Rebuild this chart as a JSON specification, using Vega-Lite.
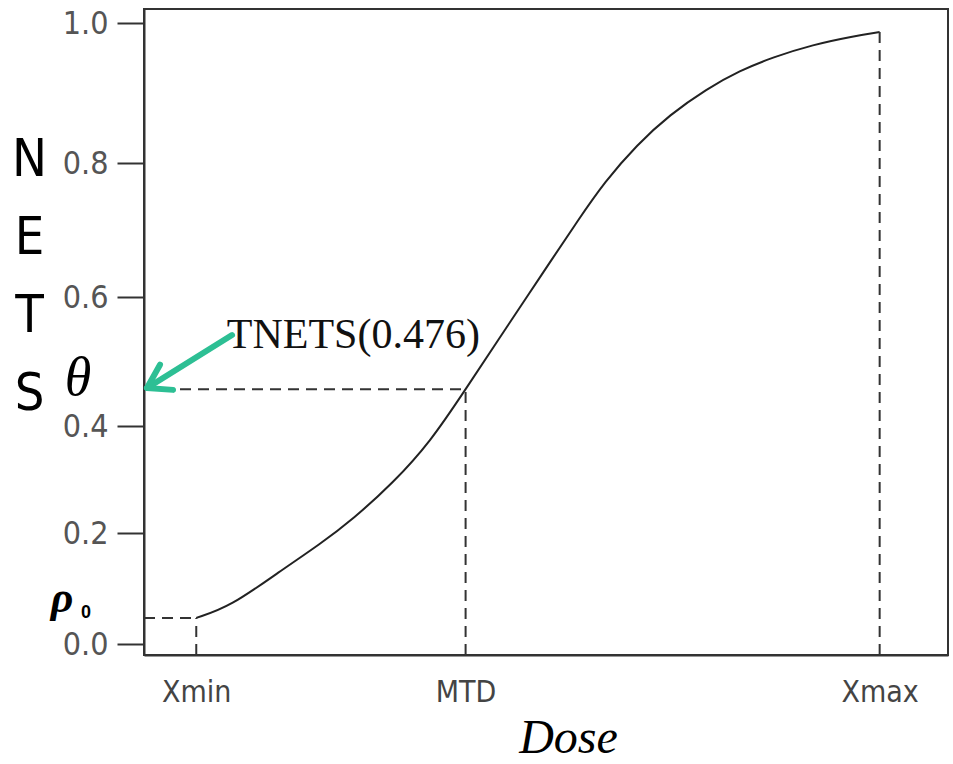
{
  "$schema": "https://vega.github.io/schema/vega-lite/v6.json",
  "width": 804,
  "height": 646,
  "autosize": "none",
  "padding": {"left": 144, "top": 9, "right": 5, "bottom": 109},
  "background": "white",
  "config": {
    "view": {"stroke": "#333", "strokeWidth": 2},
    "axis": {
      "grid": false,
      "domainColor": "#333",
      "domainWidth": 2,
      "tickColor": "#333",
      "tickWidth": 2,
      "labelFont": "Liberation Sans Narrow, DejaVu Sans Condensed, Roboto Condensed, sans-serif"
    }
  },
  "datasets": {
    "curve": [
      {"x": 6.5, "y": 0.047},
      {"x": 10.7, "y": 0.067},
      {"x": 16.9, "y": 0.131},
      {"x": 21.9, "y": 0.18},
      {"x": 26.0, "y": 0.226},
      {"x": 31.0, "y": 0.294},
      {"x": 35.6, "y": 0.37},
      {"x": 40.0, "y": 0.457},
      {"x": 44.3, "y": 0.538},
      {"x": 48.0, "y": 0.607},
      {"x": 50.5, "y": 0.652},
      {"x": 53.9, "y": 0.713},
      {"x": 57.3, "y": 0.772},
      {"x": 61.3, "y": 0.826},
      {"x": 65.4, "y": 0.869},
      {"x": 70.0, "y": 0.906},
      {"x": 74.1, "y": 0.932},
      {"x": 78.2, "y": 0.951},
      {"x": 83.2, "y": 0.969},
      {"x": 88.2, "y": 0.981},
      {"x": 91.5, "y": 0.987}
    ],
    "guides": [
      {"x": 0, "y": 0.457, "x2": 40, "y2": 0.457},
      {"x": 40, "y": -0.02, "x2": 40, "y2": 0.457},
      {"x": 0, "y": 0.047, "x2": 6.5, "y2": 0.047},
      {"x": 6.5, "y": -0.02, "x2": 6.5, "y2": 0.047},
      {"x": 91.5, "y": -0.02, "x2": 91.5, "y2": 0.987}
    ],
    "arrow": [
      {"part": "shaft", "ord": 1, "x": 10.95, "y": 0.541},
      {"part": "shaft", "ord": 2, "x": 0.37, "y": 0.459},
      {"part": "head", "ord": 1, "x": 1.99, "y": 0.495},
      {"part": "head", "ord": 2, "x": 0.37, "y": 0.459},
      {"part": "head", "ord": 3, "x": 3.61, "y": 0.456}
    ]
  },
  "encoding": {
    "x": {
      "field": "x",
      "type": "quantitative",
      "scale": {"domain": [0, 100], "nice": false, "zero": false},
      "axis": {
        "orient": "bottom",
        "values": [6.5, 40, 91.5],
        "labelExpr": "datum.value < 20 ? 'Xmin' : datum.value < 60 ? 'MTD' : 'Xmax'",
        "ticks": false,
        "labelFontSize": 30,
        "labelColor": "#444",
        "labelPadding": 22,
        "labelFlush": false,
        "title": "Dose",
        "titleFont": "Liberation Serif",
        "titleFontStyle": "italic",
        "titleFontWeight": "normal",
        "titleFontSize": 48,
        "titleColor": "#000",
        "titleX": 424,
        "titleY": 97,
        "titleAlign": "center",
        "titleBaseline": "alphabetic"
      }
    },
    "y": {
      "field": "y",
      "type": "quantitative",
      "scale": {
        "domain": [-0.02, 0, 0.2, 0.4, 0.6, 0.8, 1.0, 1.02],
        "range": [646, 635, 524, 417, 288, 154, 14, 0],
        "nice": false,
        "zero": false
      },
      "axis": {
        "values": [0, 0.2, 0.4, 0.6, 0.8, 1.0],
        "format": ".1f",
        "tickSize": 27,
        "labelPadding": 9,
        "labelFontSize": 32,
        "labelColor": "#555",
        "labelFlush": false,
        "labelOverlap": false,
        "title": ["N", "E", "T", "S"],
        "titleAngle": 0,
        "titleFont": "Liberation Sans Narrow, DejaVu Sans Condensed, Roboto Condensed, sans-serif",
        "titleFontSize": 52,
        "titleFontWeight": "normal",
        "titleColor": "#000",
        "titleLineHeight": 78,
        "titleX": -115,
        "titleY": 150,
        "titleAlign": "center",
        "titleBaseline": "middle"
      }
    }
  },
  "layer": [
    {
      "data": {"name": "curve"},
      "mark": {"type": "line", "color": "#222", "strokeWidth": 2, "interpolate": "basis"}
    },
    {
      "data": {"name": "guides"},
      "mark": {"type": "rule", "color": "#333", "strokeWidth": 2, "strokeDash": [11, 7]},
      "encoding": {"x2": {"field": "x2"}, "y2": {"field": "y2"}}
    },
    {
      "data": {"name": "arrow"},
      "mark": {"type": "line", "color": "#2dbf94", "strokeWidth": 6, "strokeCap": "round", "strokeJoin": "round"},
      "encoding": {"detail": {"field": "part"}, "order": {"field": "ord"}}
    },
    {
      "data": {"values": [{"note": "TNETS(0.476)", "x": 10.3, "y": 0.521}]},
      "mark": {"type": "text", "font": "Liberation Serif", "fontSize": 42, "align": "left", "baseline": "alphabetic", "color": "#111"},
      "encoding": {"text": {"field": "note"}}
    },
    {
      "data": {"values": [{"note": "θ", "x": -8.2, "y": 0.473}]},
      "mark": {"type": "text", "font": "Liberation Serif", "fontStyle": "italic", "fontSize": 54, "align": "center", "baseline": "middle", "color": "#000"},
      "encoding": {"text": {"field": "note"}}
    },
    {
      "data": {"values": [{"note": "ρ", "x": -10.2, "y": 0.058}]},
      "mark": {"type": "text", "font": "Liberation Serif", "fontStyle": "italic", "fontWeight": "bold", "fontSize": 44, "align": "center", "baseline": "alphabetic", "color": "#000"},
      "encoding": {"text": {"field": "note"}}
    },
    {
      "data": {"values": [{"note": "0", "x": -7.2, "y": 0.047}]},
      "mark": {"type": "text", "font": "Liberation Sans", "fontWeight": "bold", "fontSize": 18, "align": "center", "baseline": "alphabetic", "color": "#000"},
      "encoding": {"text": {"field": "note"}}
    }
  ]
}
